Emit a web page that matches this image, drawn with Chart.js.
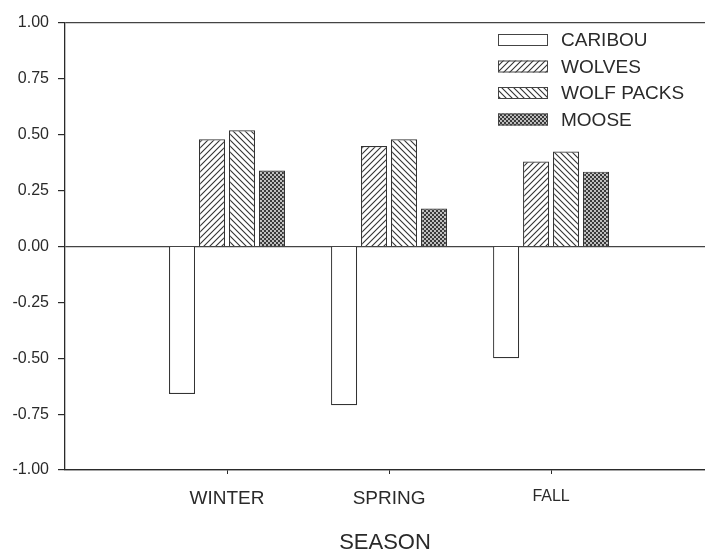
<!DOCTYPE html>
<html>
<head>
<meta charset="utf-8">
<script src="https://cdn.jsdelivr.net/npm/chart.js@4.4.1/dist/chart.umd.min.js"></script>
<style>
  html, body { margin: 0; padding: 0; background: #fff; overflow: hidden; }
  #wrap { width: 705px; height: 552px; }
</style>
</head>
<body>
<div id="wrap"><canvas id="mycanvas" width="705" height="552"></canvas></div>
<script>
// values
var seasons = ['WINTER', 'SPRING', 'FALL'];
var caribou = [-0.66, -0.71, -0.50];
var wolves = [0.48, 0.45, 0.38];
var wolfPacks = [0.52, 0.48, 0.425];
var moose = [0.34, 0.17, 0.335];
var yTicks = [-1, -0.75, -0.5, -0.25, 0, 0.25, 0.5, 0.75, 1];

var ink = '#2a2a2a';

function hatch(dir) {
  var c = document.createElement('canvas');
  c.width = 6; c.height = 6;
  var g = c.getContext('2d');
  g.fillStyle = '#fff';
  g.fillRect(0, 0, 6, 6);
  g.strokeStyle = '#333';
  g.lineWidth = 1.1;
  g.beginPath();
  if (dir > 0) {
    g.moveTo(-1, 7); g.lineTo(7, -1);
    g.moveTo(-1, 1); g.lineTo(1, -1);
    g.moveTo(5, 7); g.lineTo(7, 5);
  } else {
    g.moveTo(-1, -1); g.lineTo(7, 7);
    g.moveTo(5, -1); g.lineTo(7, 1);
    g.moveTo(-1, 5); g.lineTo(1, 7);
  }
  g.stroke();
  return g.createPattern(c, 'repeat');
}

function dots() {
  var c = document.createElement('canvas');
  c.width = 4; c.height = 4;
  var g = c.getContext('2d');
  g.fillStyle = '#3a3a3a';
  g.fillRect(0, 0, 4, 4);
  g.fillStyle = '#fff';
  g.beginPath(); g.arc(1, 1, 0.9, 0, Math.PI * 2); g.fill();
  g.beginPath(); g.arc(3, 3, 0.9, 0, Math.PI * 2); g.fill();
  return g.createPattern(c, 'repeat');
}

function points(vals) {
  return vals.map(function (v, i) { return { x: i + 1, y: v }; });
}

var fills = ['#fff', hatch(1), hatch(-1), dots()];

var boxLegend = {
  id: 'boxLegend',
  afterDatasetsDraw: function (chart) {
    var ctx = chart.ctx;
    ctx.save();
    ctx.font = '19px "Liberation Sans", Arial, sans-serif';
    ctx.textBaseline = 'middle';
    chart.data.datasets.forEach(function (ds, i) {
      var y = 40 + i * 26.5;
      ctx.fillStyle = ds.backgroundColor;
      ctx.fillRect(498, y - 6, 50, 12);
      ctx.strokeStyle = '#444';
      ctx.lineWidth = 1;
      ctx.strokeRect(498.5, y - 5.5, 49, 11);
      ctx.fillStyle = ink;
      ctx.fillText(ds.label, 561, y + 1);
    });
    ctx.restore();
  }
};

var chartdata = {
  datasets: [
    { label: 'CARIBOU', data: points(caribou), backgroundColor: fills[0] },
    { label: 'WOLVES', data: points(wolves), backgroundColor: fills[1] },
    { label: 'WOLF PACKS', data: points(wolfPacks), backgroundColor: fills[2] },
    { label: 'MOOSE', data: points(moose), backgroundColor: fills[3] }
  ]
};
chartdata.datasets.forEach(function (ds) {
  ds.borderColor = '#333';
  ds.borderWidth = 1.2;
  ds.categoryPercentage = 0.74;
  ds.barPercentage = 0.87;
});

var ctx = document.getElementById('mycanvas');
var barGraph = new Chart(ctx, {
  type: 'bar',
  data: chartdata,
  plugins: [boxLegend],
  options: {
    responsive: false,
    animation: false,
    layout: { padding: { top: 23, right: 0, left: 0, bottom: 0 } },
    plugins: { legend: { display: false }, tooltip: { enabled: false } },
    scales: {
      x: {
        type: 'linear',
        min: 0,
        max: 3.95,
        offset: false,
        afterBuildTicks: function (axis) {
          axis.ticks = seasons.map(function (s, i) { return { value: i + 1 }; });
        },
        afterFit: function (axis) { axis.height = 82; },
        border: { color: ink, width: 1.3 },
        grid: { offset: false, drawOnChartArea: false, tickLength: 4, color: ink },
        ticks: {
          padding: 13,
          color: ink,
          font: function (c) {
            return { family: '"Liberation Sans", Arial, sans-serif', size: c.index === 2 ? 16 : 19 };
          },
          callback: function (v) { return seasons[v - 1]; }
        },
        title: {
          display: true,
          text: 'SEASON',
          color: ink,
          padding: { top: 4, bottom: -4 },
          font: { family: '"Liberation Sans", Arial, sans-serif', size: 22 }
        }
      },
      y: {
        min: -1,
        max: 1,
        afterBuildTicks: function (axis) {
          axis.ticks = yTicks.map(function (v) { return { value: v }; });
        },
        afterFit: function (axis) { axis.width = 65; },
        border: { color: ink, width: 1.3 },
        grid: {
          tickLength: 7,
          tickColor: ink,
          lineWidth: 1.2,
          color: function (c) {
            var v = c.tick && c.tick.value;
            return (v === 1 || v === 0 || v === -1) ? '#444' : 'rgba(0,0,0,0)';
          }
        },
        ticks: {
          padding: 9,
          color: ink,
          font: { family: '"Liberation Sans", Arial, sans-serif', size: 16 },
          callback: function (v) { return v.toFixed(2); }
        }
      }
    }
  }
});
</script>
</body>
</html>
